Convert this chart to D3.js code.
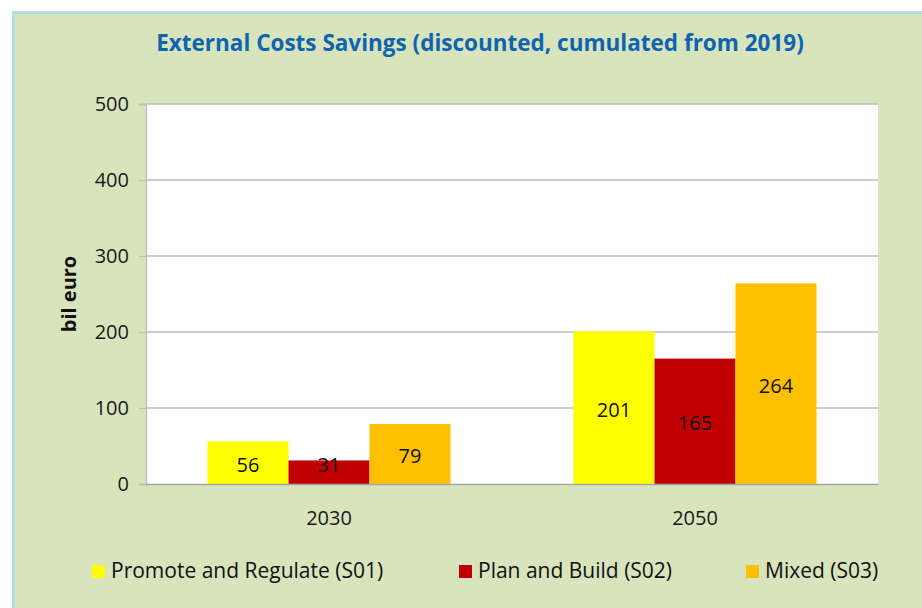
<!DOCTYPE html>
<html><head><meta charset="utf-8">
<script src="https://cdn.jsdelivr.net/npm/d3@7"></script>
<style>html,body{margin:0;padding:0;background:#fff;}svg{display:block;}</style>
</head><body>
<script>
const categories = ["2030", "2050"];
const seriesNames = ["Promote and Regulate (S01)", "Plan and Build (S02)", "Mixed (S03)"];
const s01 = [56, 201];
const s02 = [31, 165];
const s03 = [79, 264];
const yTicks = [0, 100, 200, 300, 400, 500];
const colors = ["#FFFF00", "#C00000", "#FFC000"];
const seriesValues = [s01, s02, s03];

const W = 922, H = 608;
const font = "'Open Sans', 'Liberation Sans', sans-serif";
const svg = d3.select("body").append("svg").attr("width", W).attr("height", H);

svg.append("rect").attr("x", 13.5).attr("y", 12.5).attr("width", W).attr("height", H)
  .attr("fill", "#D8E4BC").attr("stroke", "#B4DCE6").attr("stroke-width", 3);

const plot = {l: 146, r: 878, t: 104, b: 484};
svg.append("rect").attr("x", plot.l).attr("y", plot.t).attr("width", plot.r - plot.l)
  .attr("height", plot.b - plot.t).attr("fill", "#fff");

const y = d3.scaleLinear().domain([0, 500]).range([plot.b, plot.t]);
const x0 = d3.scaleBand().domain(categories).range([plot.l, plot.r]).paddingInner(0.336).paddingOuter(0.168);
const x1 = d3.scaleBand().domain(d3.range(seriesNames.length)).range([0, x0.bandwidth()]);

// gridlines
svg.append("g").selectAll("line").data(yTicks.filter(t => t > 0)).join("line")
  .attr("x1", plot.l).attr("x2", plot.r).attr("y1", d => y(d)).attr("y2", d => y(d))
  .attr("stroke", "#BDBDBD").attr("stroke-width", 1.3);

// y axis
const yAxis = svg.append("g").attr("transform", `translate(${plot.l},0)`)
  .call(d3.axisLeft(y).tickValues(yTicks).tickSize(7).tickPadding(10));
yAxis.select(".domain").attr("stroke", "#BDBDBD").attr("stroke-width", 1.3);
yAxis.selectAll(".tick line").attr("stroke", "#BDBDBD").attr("stroke-width", 1.3);
yAxis.selectAll("text").attr("font-family", font).attr("font-size", 20).attr("fill", "#1a1a1a");

// bars
const groups = svg.append("g").selectAll("g").data(categories).join("g")
  .attr("transform", d => `translate(${x0(d)},0)`);
groups.selectAll("rect").data((c, ci) => seriesValues.map((s, si) => ({si, v: s[ci]}))).join("rect")
  .attr("x", d => x1(d.si)).attr("width", x1.bandwidth())
  .attr("y", d => y(d.v)).attr("height", d => y(0) - y(d.v))
  .attr("fill", d => colors[d.si]);
groups.selectAll("text").data((c, ci) => seriesValues.map((s, si) => ({si, v: s[ci]}))).join("text")
  .attr("x", d => x1(d.si) + x1.bandwidth() / 2)
  .attr("y", d => Math.min((y(d.v) + y(0)) / 2 + 2, y(0) - 19))
  .attr("dy", "0.35em").attr("text-anchor", "middle")
  .attr("font-family", font).attr("font-size", 20).attr("fill", "#111")
  .text(d => d.v);

// x axis
const xAxis = svg.append("g").attr("transform", `translate(0,${plot.b})`)
  .call(d3.axisBottom(x0).tickSize(0).tickPadding(22));
xAxis.select(".domain").attr("stroke", "#A6A6A6").attr("stroke-width", 1.5);
xAxis.selectAll("text").attr("font-family", font).attr("font-size", 20).attr("fill", "#1a1a1a")
  .attr("dy", "0.35em").attr("y", 34);

// y title
svg.append("text").attr("transform", "translate(76,294) rotate(-90)")
  .attr("text-anchor", "middle").attr("font-family", font).attr("font-weight", "bold")
  .attr("font-size", 20).attr("fill", "#111").text("bil euro");

// title
svg.append("text").attr("x", 480).attr("y", 51).attr("text-anchor", "middle")
  .attr("font-family", font).attr("font-weight", "bold").attr("font-size", 22.5)
  .attr("fill", "#0E64B0").text("External Costs Savings (discounted, cumulated from 2019)");

// legend
const legX = [92, 459, 746];
const leg = svg.append("g").selectAll("g").data(seriesNames).join("g")
  .attr("transform", (d, i) => `translate(${legX[i]},571)`);
leg.append("rect").attr("x", 0).attr("y", -6).attr("width", 13).attr("height", 13)
  .attr("fill", (d, i) => colors[i]);
leg.append("text").attr("x", 19).attr("dy", "0.35em").attr("font-family", font)
  .attr("font-size", 21).attr("fill", "#111").text(d => d);
</script>
</body></html>
